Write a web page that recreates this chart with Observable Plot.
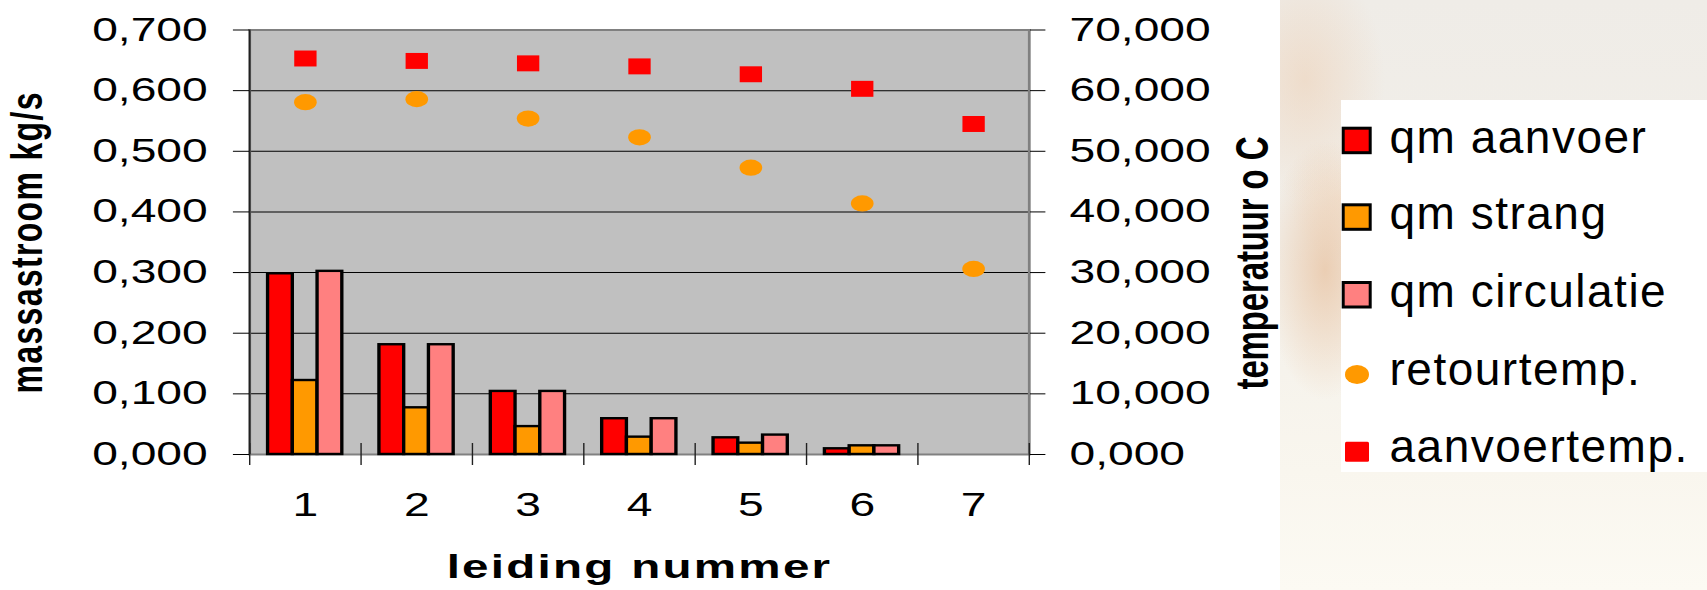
<!DOCTYPE html>
<html><head><meta charset="utf-8">
<script src="https://cdn.jsdelivr.net/npm/d3@7"></script>
<script src="https://cdn.jsdelivr.net/npm/@observablehq/plot@0.6"></script>
<style>
html,body{margin:0;padding:0;background:#fff;}
#wrap{position:relative;width:1707px;height:590px;overflow:hidden;background:#fff;font-family:"Liberation Sans",Arial,sans-serif;}
#bg{position:absolute;left:1280px;top:0;width:427px;height:590px;
  background:
    radial-gradient(ellipse 60px 130px at 45px 270px, rgba(228,178,135,0.55), rgba(228,178,135,0) 100%),
    radial-gradient(ellipse 80px 120px at 25px 80px, rgba(236,200,168,0.45), rgba(236,200,168,0) 100%),
    radial-gradient(ellipse 50px 60px at 60px 200px, rgba(245,225,205,0.5), rgba(245,225,205,0) 100%),
    linear-gradient(to bottom, #efece7 0%, #f2efe9 40%, #f9f6ee 80%, #fcfaf3 100%);}
#chart{position:absolute;left:0;top:0;}
#chart svg{transform:scaleX(1.4);transform-origin:0 0;display:block;}
#legend{position:absolute;left:1341px;top:100px;width:366px;height:372px;background:#fff;}
#legend svg{overflow:visible;display:block;}
</style></head><body>
<div id="wrap"><div id="bg"></div><div id="chart"></div><div id="legend"></div></div>
<script>
// ---- data ----
const leiding = [1, 2, 3, 4, 5, 6, 7];
const seriesNames = ["qm aanvoer", "qm strang", "qm circulatie"];
const seriesColors = ["#FF0000", "#FF9900", "#FF8080"];
const qmAanvoer    = [0.298, 0.181, 0.104, 0.059, 0.0275, 0.0094, null];
const qmStrang     = [0.122, 0.077, 0.046, 0.0286, 0.0187, 0.0143, null];
const qmCirculatie = [0.302, 0.181, 0.104, 0.059, 0.032, 0.0143, null];
const retourtemp   = [58.1, 58.6, 55.4, 52.3, 47.3, 41.4, 30.6];
const aanvoertemp  = [65.3, 64.9, 64.5, 64.0, 62.7, 60.3, 54.5];
const massTicks = [0, 0.1, 0.2, 0.3, 0.4, 0.5, 0.6, 0.7];
const tempTicks = [0, 10, 20, 30, 40, 50, 60, 70];
const massMax = 0.7, tempMax = 70;
const legendItems = ["qm aanvoer", "qm strang", "qm circulatie", "retourtemp.", "aanvoertemp."];

// ---- tables ----
const seriesValues = [qmAanvoer, qmStrang, qmCirculatie];
const bars = [];
seriesNames.forEach((s, i) => leiding.forEach((n, j) => {
  const v = seriesValues[i][j];
  if (v != null) bars.push({leiding: n, series: s, index: i, value: v});
}));
const temps = leiding.map((n, j) => ({leiding: n, retour: retourtemp[j], aanvoer: aanvoertemp[j]}));
const bounds = [...leiding.map(n => n - 0.5), leiding[leiding.length - 1] + 0.5];
const barW = 2 / 9; // Excel gap width 150%
const toMass = t => t * massMax / tempMax;
const fmt = v => v.toFixed(3).replace(".", ",");

const K = 1.4;          // horizontal stretch of the chart
const W = 1280 / K, H = 590;
const plotLeft = 249 / K, plotRight = 1028.6 / K;

const chart = Plot.plot({
  width: W, height: H,
  marginLeft: plotLeft, marginRight: W - plotRight, marginTop: 29.5, marginBottom: 136,
  style: {fontFamily: "'Liberation Sans', Arial, sans-serif", fontSize: "33px", background: "white", color: "black", overflow: "visible"},
  x: {domain: [bounds[0], bounds[bounds.length - 1]]},
  y: {domain: [0, massMax]},
  color: {domain: seriesNames, range: seriesColors},
  marks: [
    Plot.frame({fill: "#C0C0C0"}),
    Plot.gridY(massTicks, {stroke: "black", strokeOpacity: 1, strokeWidth: 1}),
    Plot.frame({stroke: "#808080", strokeWidth: 2}),
    Plot.ruleX([bounds[0]], {stroke: "#202020", strokeWidth: 1.2}),
    Plot.rectY(bars, {
      x1: d => d.leiding + (d.index - 1.5) * barW,
      x2: d => d.leiding + (d.index - 0.5) * barW,
      y: "value", fill: "series", stroke: "black", strokeWidth: 2.4
    }),
    Plot.dot(temps, {x: "leiding", y: d => toMass(d.retour), r: 8.1, fill: "#FF9900", symbol: "circle"}),
    Plot.dot(temps, {x: "leiding", y: d => toMass(d.aanvoer), r: 9.0, fill: "#FF0000", symbol: "square"}),
    Plot.axisY({anchor: "left", ticks: massTicks, tickFormat: fmt, tickSize: 11.5, tickPadding: 18.5, label: null}),
    Plot.axisY({anchor: "right", ticks: tempTicks.map(toMass), tickFormat: d => fmt(d * tempMax / massMax), tickSize: 11, tickPadding: 17.7, label: null}),
    Plot.axisX({anchor: "bottom", ticks: leiding, tickFormat: d => String(d), tickSize: 0, tickPadding: 37.7, label: null}),
    Plot.ruleX(bounds, {x: d => d, y1: 0, y2: 0, insetTop: 11, insetBottom: 11, stroke: "#202020", strokeWidth: 1}),
    Plot.text(["massastroom kg/s"], {frameAnchor: "left", textAnchor: "middle", rotate: -90, lineAnchor: "top", dx: 7 - plotLeft, dy: 0.75, fontWeight: "bold", fontSize: 32}),
    Plot.text(["temperatuur o C"], {frameAnchor: "right", textAnchor: "middle", rotate: -90, lineAnchor: "bottom", dx: 905 - plotRight, dy: 20.75, fontWeight: "bold", fontSize: 33}),
    Plot.text(["leiding nummer"], {frameAnchor: "bottom", textAnchor: "middle", lineAnchor: "bottom", dy: 124, fontWeight: "bold", fontSize: 34})
  ]
});
document.getElementById("chart").appendChild(chart);

d3.select(chart).selectAll("text").each(function () {
  const t = this.textContent;
  if (t === "massastroom kg/s") { this.setAttribute("textLength", 301); }
  if (t === "temperatuur o C") { this.setAttribute("textLength", 253); }
  if (t === "leiding nummer") { this.style.letterSpacing = "1.6px"; }
});

// ---- legend ----
const lg = d3.select("#legend").append("svg").attr("width", 366).attr("height", 372)
  .attr("font-family", "'Liberation Sans', Arial, sans-serif");
const baselines = [52.7, 129.3, 207, 285, 361.7];
const swatchFill = ["#FF0000", "#FF9900", "#FF8080", "#FF9900", "#FF0000"];
legendItems.forEach((name, i) => {
  const b = baselines[i];
  if (i < 3) {
    lg.append("rect").attr("x", 2.2).attr("y", b - 24.5).attr("width", 27).attr("height", 24.5)
      .attr("fill", swatchFill[i]).attr("stroke", "black").attr("stroke-width", 3);
  } else if (i === 3) {
    lg.append("ellipse").attr("cx", 16).attr("cy", b - 10.5).attr("rx", 12).attr("ry", 9.5).attr("fill", swatchFill[i]);
  } else {
    lg.append("rect").attr("x", 4).attr("y", b - 20).attr("width", 24).attr("height", 20).attr("rx", 1.5).attr("fill", swatchFill[i]);
  }
  lg.append("text").attr("x", 48.5).attr("y", b).attr("font-size", 46).attr("letter-spacing", "1.5px")
    .attr("fill", "black").text(name);
});
</script>
</body></html>
